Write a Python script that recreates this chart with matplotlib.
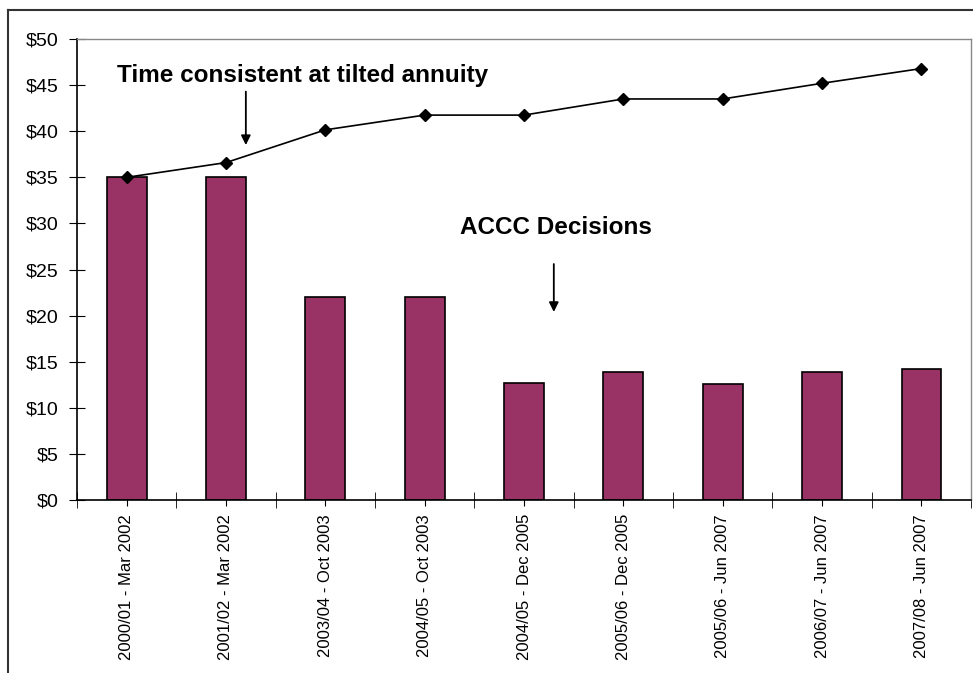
import matplotlib
matplotlib.use("Agg")
import matplotlib.pyplot as plt
from matplotlib.lines import Line2D
import numpy as np

plt.rcParams['font.family'] = ['Liberation Sans', 'DejaVu Sans']

# periods (regulatory year - decision date)
periods = ['2000/01 - Mar 2002', '2001/02 - Mar 2002', '2003/04 - Oct 2003',
           '2004/05 - Oct 2003', '2004/05 - Dec 2005', '2005/06 - Dec 2005',
           '2005/06 - Jun 2007', '2006/07 - Jun 2007', '2007/08 - Jun 2007']

# ACCC decisions (bars)
accc = [35.0, 35.0, 22.0, 22.0, 12.65, 13.85, 12.55, 13.85, 14.25]

# time consistent tilted annuity (line)
tilted = [35.0, 36.6, 40.15, 41.75, 41.75, 43.5, 43.5, 45.2, 46.8]

yticks = [0, 5, 10, 15, 20, 25, 30, 35, 40, 45, 50]

fig = plt.figure(figsize=(9.73, 6.73), dpi=100)
ax = fig.add_axes([0.0791, 0.257, 0.9189, 0.685])

x = np.arange(len(periods))
ax.bar(x, accc, width=0.4, color='#993366', edgecolor='black', linewidth=1.2, zorder=2)
ax.plot(x, tilted, color='black', linewidth=1.2, marker='D', markersize=6, zorder=3)

ax.set_xlim(-0.5, len(periods) - 0.5)
ax.set_ylim(0, 50)
ax.set_yticks(yticks)
ax.set_yticklabels([f'${v}' for v in yticks], fontsize=14)

# labels at bar centres, extra ticks at category boundaries
ax.set_xticks(x)
ax.set_xticklabels(periods, rotation=90, fontsize=12)
ax.set_xticks(np.arange(len(periods) + 1) - 0.5, minor=True)
ax.tick_params(axis='x', which='major', direction='inout', length=8, pad=6)
ax.tick_params(axis='x', which='minor', direction='inout', length=11)
ax.tick_params(axis='y', direction='inout', length=11, pad=8)

for side in ['top', 'right']:
    ax.spines[side].set_color('#888888')
    ax.spines[side].set_linewidth(1.0)
for side in ['left', 'bottom']:
    ax.spines[side].set_linewidth(1.2)

# annotations
ax.text(-0.1, 46.0, 'Time consistent at tilted annuity', fontsize=17.5,
        fontweight='bold', ha='left', va='center')
ax.annotate('', xy=(1.2, 38.2), xytext=(1.2, 44.6),
            arrowprops=dict(arrowstyle='-|>', color='black', lw=1.3, mutation_scale=14))
ax.text(4.32, 29.6, 'ACCC Decisions', fontsize=17.5, fontweight='bold',
        ha='center', va='center')
ax.annotate('', xy=(4.3, 20.1), xytext=(4.3, 25.9),
            arrowprops=dict(arrowstyle='-|>', color='black', lw=1.3, mutation_scale=14))

# outer frame of the picture
fig.add_artist(Line2D([8 / 973, 1.0], [1 - 10 / 673, 1 - 10 / 673],
                      transform=fig.transFigure, color='#333333', lw=1.5))
fig.add_artist(Line2D([8 / 973, 8 / 973], [0.0, 1 - 10 / 673],
                      transform=fig.transFigure, color='#333333', lw=1.5))

fig.savefig('out.png', dpi=100)
